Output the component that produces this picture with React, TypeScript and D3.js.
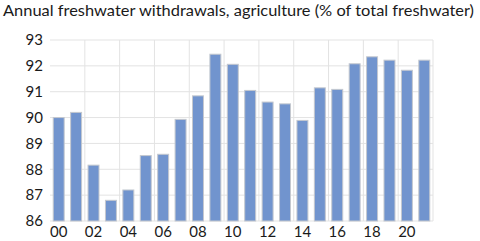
import React from "react";
import * as d3 from "d3";

// years 2000-2021, % of total freshwater withdrawals used by agriculture
const years = [
  "00", "01", "02", "03", "04", "05", "06", "07", "08", "09", "10",
  "11", "12", "13", "14", "15", "16", "17", "18", "19", "20", "21",
];
const values = [
  90.0, 90.2, 88.16, 86.8, 87.2, 88.53, 88.58, 89.93, 90.84, 92.45, 92.06,
  91.05, 90.6, 90.53, 89.89, 91.15, 91.09, 92.08, 92.35, 92.22, 91.83, 92.22,
];
const yTicks = [86, 87, 88, 89, 90, 91, 92, 93];
const xTickLabels = ["00", "02", "04", "06", "08", "10", "12", "14", "16", "18", "20"];
const title = "Annual freshwater withdrawals, agriculture (% of total freshwater)";

const W = 480;
const H = 241;
const margin = { top: 40, right: 47, bottom: 20, left: 50 };
const font = "Lato, 'Open Sans', sans-serif";

const App = () => {
  const innerW = W - margin.left - margin.right;
  const innerH = H - margin.top - margin.bottom;

  const x = d3.scaleBand<string>().domain(years).range([0, innerW]).paddingInner(0.37).paddingOuter(0.185);
  const y = d3.scaleLinear().domain([86, 93]).range([innerH, 0]);
  const step = x.step();

  // vertical gridlines after every second category (01|02, 03|04, ...)
  const vLines = years.filter((_, i) => i % 2 === 1).map(d => (x(d) as number) + x.bandwidth() / 2 + step / 2);

  return (
    <svg width={W} height={H} style={{ position: "absolute", left: 0, top: 0, background: "#fff" }}>
      <text x={3} y={16} fontFamily={font} fontSize={16} fill="#1a1a1a" textLength={471} lengthAdjust="spacingAndGlyphs">
        {title}
      </text>
      <g transform={`translate(${margin.left},${margin.top})`}>
        {yTicks.map(t => (
          <line key={"h" + t} x1={0} x2={innerW} y1={y(t)} y2={y(t)} stroke="#e3e3e3" strokeWidth={1} />
        ))}
        {vLines.map((v, i) => (
          <line key={"v" + i} x1={v} x2={v} y1={0} y2={innerH} stroke="#e3e3e3" strokeWidth={1} />
        ))}
        {years.map((d, i) => (
          <rect
            key={d}
            x={x(d)}
            y={y(values[i])}
            width={x.bandwidth()}
            height={innerH - y(values[i])}
            fill="#7194ce"
            stroke="#c4c8cf"
            strokeWidth={1}
          />
        ))}
        {yTicks.map(t => (
          <text key={"yl" + t} x={-7} y={y(t)} dy="0.35em" textAnchor="end" fontFamily={font} fontSize={15} fill="#1a1a1a">
            {t}
          </text>
        ))}
        {xTickLabels.map(l => (
          <text
            key={"xl" + l}
            x={(x(l) as number) + x.bandwidth() / 2}
            y={innerH + 16}
            textAnchor="middle"
            fontFamily={font}
            fontSize={15}
            fill="#1a1a1a"
          >
            {l}
          </text>
        ))}
      </g>
    </svg>
  );
};

export default App;
